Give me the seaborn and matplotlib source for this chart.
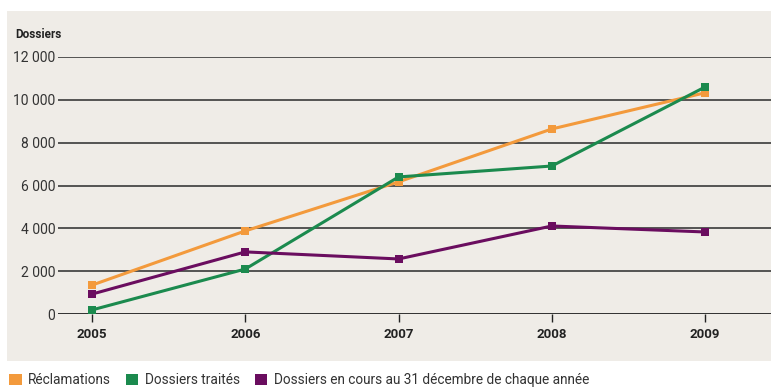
import matplotlib
matplotlib.use("Agg")
import matplotlib.pyplot as plt
import seaborn as sns
import pandas as pd
from matplotlib.patches import Patch

years = [2005, 2006, 2007, 2008, 2009]
reclamations = [1350, 3880, 6170, 8640, 10330]
traites = [190, 2100, 6400, 6910, 10600]
en_cours = [930, 2900, 2570, 4110, 3830]
series_names = ["Réclamations", "Dossiers traités",
                "Dossiers en cours au 31 décembre de chaque année"]
yticks = [0, 2000, 4000, 6000, 8000, 10000, 12000]
ytick_labels = ["0", "2 000", "4 000", "6 000", "8 000", "10 000", "12 000"]

colors = ["#f39a3c", "#1b8a4e", "#6a0d5f"]

sns.set_theme(style="white")
plt.rcParams["font.family"] = ["Roboto", "DejaVu Sans"]

df = pd.DataFrame({
    "year": years * 3,
    "value": reclamations + traites + en_cours,
    "serie": [series_names[0]] * 5 + [series_names[1]] * 5 + [series_names[2]] * 5,
})

W, H = 771, 387
fig = plt.figure(figsize=(W / 100, H / 100), dpi=100)
fig.patch.set_facecolor("white")

bg = fig.add_axes([7 / W, 1 - 361 / H, 1 - 7 / W, (361 - 11) / H], zorder=-5)
bg.set_facecolor("#efece7")
bg.set_xticks([])
bg.set_yticks([])
for s in bg.spines.values():
    s.set_visible(False)

ax = fig.add_axes([58 / W, 1 - 314 / H, (W - 58) / W, (314 - 57) / H], zorder=1)
ax.set_facecolor("none")

sns.lineplot(data=df, x="year", y="value", hue="serie", palette=colors,
             marker="s", markersize=6, markeredgewidth=0, linewidth=2.2,
             ax=ax, legend=False, zorder=3)
for l in ax.lines:
    l.set_clip_on(False)

ax.set_xlim(2004.778, 2009.43)
ax.set_ylim(0, 12000)
ax.set_yticks(yticks)
ax.set_yticklabels(ytick_labels)
ax.set_xticks(years)
ax.set_xticklabels([str(y) for y in years], fontweight="bold")
for y in yticks[1:]:
    ax.axhline(y, color="#474747", linewidth=1.3, zorder=1)
ax.axhline(0, color="#222222", linewidth=1.3, zorder=1)
for s in ax.spines.values():
    s.set_visible(False)
ax.tick_params(axis="y", length=0, pad=2, labelsize=10, colors="#333333")
ax.tick_params(axis="x", length=6, width=1, color="#222222", direction="out",
               bottom=True, pad=4, labelsize=9.5, labelcolor="#222222")
ax.set_xlabel("")
ax.set_ylabel("")
fig.text(15 / W, 1 - 35 / H, "Dossiers", fontsize=8.5, fontweight="bold",
         color="#222222", va="center", ha="left")

handles = [Patch(facecolor=c, edgecolor="none") for c in colors]
fig.legend(handles, series_names, loc="center left",
           bbox_to_anchor=(-3 / W, 1 - 380 / H), ncol=3, frameon=False,
           fontsize=9.8, handlelength=0.9, handleheight=0.9,
           handletextpad=0.5, columnspacing=1.1, labelcolor="#333333")

fig.savefig("out.png", dpi=100)
